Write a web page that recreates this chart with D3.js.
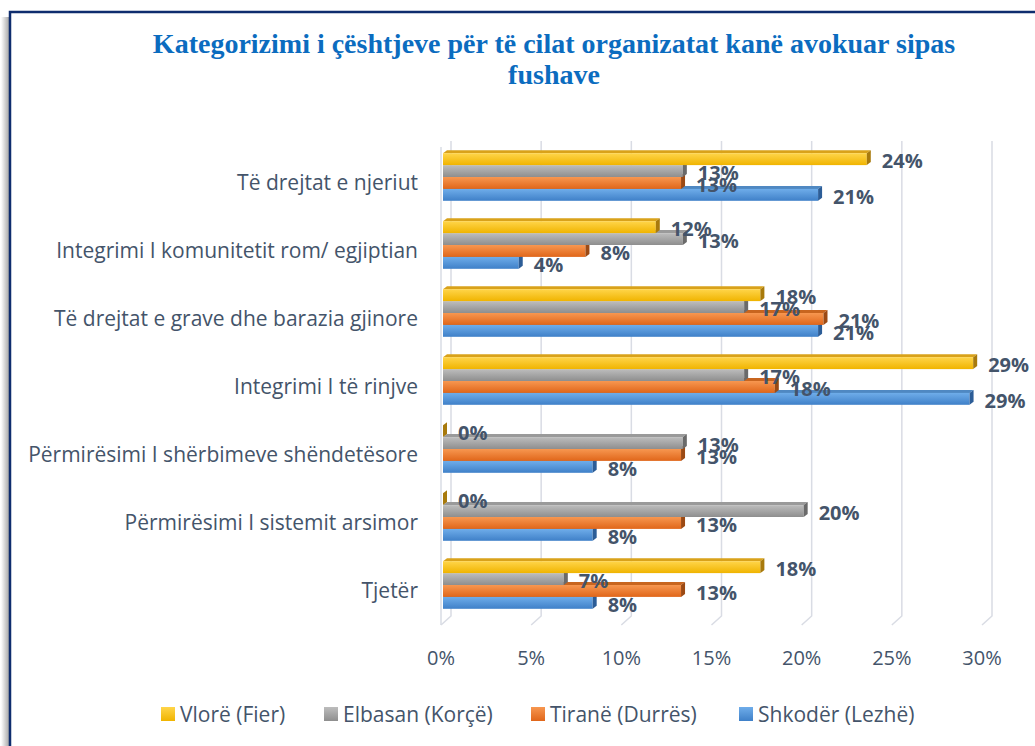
<!DOCTYPE html>
<html lang="sq">
<head>
<meta charset="UTF-8">
<title>Kategorizimi i çështjeve</title>
<style>
  body { margin: 0; background: #fff; }
  svg { display: block; }
  .cat, .tick, .legend text { font-family: "Open Sans", "Noto Sans", sans-serif; fill: #44546a; }
  .val { font-family: "Open Sans", "Noto Sans", sans-serif; font-weight: bold; fill: #44546a; }
  .title { font-family: "Liberation Serif", "Times New Roman", serif; font-weight: bold; fill: #0b6cbf; }
</style>
</head>
<body>
<svg width="1035" height="746"></svg>
<script src="https://d3js.org/d3.v7.min.js"></script>
<script>
// categories, top to bottom
const categories = [
  'Të drejtat e njeriut',
  'Integrimi I komunitetit rom/ egjiptian',
  'Të drejtat e grave dhe barazia gjinore',
  'Integrimi I të rinjve',
  'Përmirësimi I shërbimeve shëndetësore',
  'Përmirësimi I sistemit arsimor',
  'Tjetër'
];
const seriesNames = ['Vlorë (Fier)', 'Elbasan (Korçë)', 'Tiranë (Durrës)', 'Shkodër (Lezhë)'];
// percent values per series, in category order
const vlore   = [23.5, 11.8, 17.6, 29.4, 0, 0, 17.6];
const elbasan = [13.3, 13.3, 16.7, 16.7, 13.3, 20.0, 6.7];
const tirane  = [13.2, 7.9, 21.1, 18.4, 13.2, 13.2, 13.2];
const shkoder = [20.8, 4.2, 20.8, 29.2, 8.3, 8.3, 8.3];
const xTicks = [0, 5, 10, 15, 20, 25, 30];

const seriesValues = [vlore, elbasan, tirane, shkoder];
// front gradient top/bottom, top face, side face
const colors = [
  { hi: '#ffd54a', lo: '#f0b400', top: '#d9a21a', side: '#a87a0c' },
  { hi: '#bdbdbd', lo: '#8e8e8e', top: '#9a9a9a', side: '#6a6a6a' },
  { hi: '#f79750', lo: '#e0661a', top: '#c8651f', side: '#9c4a14' },
  { hi: '#6fadea', lo: '#3f80c8', top: '#4f88c2', side: '#2c5d97' }
];

const svg = d3.select('svg');
const defs = svg.append('defs');

// frame shadow + border
const sh = defs.append('linearGradient').attr('id', 'shadow').attr('x1', 0).attr('x2', 1);
sh.append('stop').attr('offset', 0).attr('stop-color', '#fff');
sh.append('stop').attr('offset', 1).attr('stop-color', '#a8a8a8');
svg.append('rect').attr('x', 1).attr('y', 17).attr('width', 8).attr('height', 729).attr('fill', 'url(#shadow)');
svg.append('path').attr('d', 'M10,746V12H1035').attr('fill', 'none')
  .attr('stroke', '#0f2d6e').attr('stroke-width', 2.5);

// title
const title = svg.append('text').attr('class', 'title').attr('text-anchor', 'middle').style('font-size', '28px');
title.append('tspan').attr('x', 554).attr('y', 53).text('Kategorizimi i çështjeve për të cilat organizatat kanë avokuar sipas');
title.append('tspan').attr('x', 554).attr('y', 84).text('fushave');

colors.forEach((c, i) => {
  const g = defs.append('linearGradient').attr('id', 'g' + i).attr('x1', 0).attr('x2', 0).attr('y1', 0).attr('y2', 1);
  g.append('stop').attr('offset', 0).attr('stop-color', c.hi);
  g.append('stop').attr('offset', 1).attr('stop-color', c.lo);
});

const x = d3.scaleLinear().domain([0, 30]).range([443, 984]);
const y = d3.scaleBand().domain(categories).range([143, 619]).paddingInner(0.3).paddingOuter(0.15);
const ys = d3.scaleBand().domain(d3.range(seriesNames.length)).range([0, y.bandwidth()]);
const dx = 4, dy = 3;
const gridTop = 141, gridBack = 616, gridFront = 625;

// gridlines (3D: back wall line + slanted floor edge)
const grid = svg.append('g').attr('fill', 'none').attr('stroke', '#d9dce4').attr('stroke-width', 1.5);
grid.append('line').attr('x1', x(0) - 2).attr('x2', x(0) - 2).attr('y1', gridTop + 6).attr('y2', gridFront);
grid.selectAll('path').data(xTicks).join('path')
  .attr('d', d => `M${x(d) + 8},${gridTop}V${gridBack}L${x(d) - 2},${gridFront}`);

// tick labels
svg.append('g').selectAll('text').data(xTicks).join('text')
  .attr('class', 'tick').attr('x', d => x(d) - 2).attr('y', 657)
  .attr('text-anchor', 'middle').attr('dominant-baseline', 'central')
  .style('font-size', '20px').text(d => d + '%');

// category labels
svg.append('g').selectAll('text').data(categories).join('text')
  .attr('class', 'cat').attr('x', 418).attr('y', d => y(d) + y.bandwidth() / 2 + 5)
  .attr('text-anchor', 'end').attr('dominant-baseline', 'central')
  .style('font-size', '21px').text(d => d);

// bars: draw bottom series first so upper bars cover the top faces below
const bars = [];
categories.forEach((cat, ci) => {
  seriesValues.forEach((vals, si) => {
    bars.push({ cat, si, v: vals[ci] });
  });
});
const barG = svg.append('g');
const order = d3.range(seriesNames.length).reverse();
order.forEach(si => {
  const data = bars.filter(b => b.si === si);
  const g = barG.append('g');
  data.forEach(b => {
    const x0 = x(0), x1 = x(b.v);
    const y0 = y(b.cat) + ys(si), h = ys.bandwidth();
    const c = colors[si];
    g.append('path').attr('fill', c.top)
      .attr('d', `M${x0},${y0}L${x0 + dx},${y0 - dy}L${x1 + dx},${y0 - dy}L${x1},${y0}Z`);
    g.append('rect').attr('x', x0).attr('y', y0).attr('width', x1 - x0).attr('height', h)
      .attr('fill', `url(#g${si})`);
    g.append('path').attr('fill', c.side)
      .attr('d', `M${x1},${y0}L${x1 + dx},${y0 - dy}L${x1 + dx},${y0 + h - dy}L${x1},${y0 + h}Z`);
  });
});

// value labels
svg.append('g').selectAll('text').data(bars).join('text')
  .attr('class', 'val')
  .attr('x', d => x(d.v) + 15)
  .attr('y', d => y(d.cat) + ys(d.si) + ys.bandwidth() / 2 + 1.5)
  .attr('dominant-baseline', 'central')
  .style('font-size', '20px')
  .text(d => Math.round(d.v) + '%');

// legend
const legendX = [161, 324, 531, 739];
const leg = svg.append('g').attr('class', 'legend');
seriesNames.forEach((name, i) => {
  leg.append('rect').attr('x', legendX[i]).attr('y', 707).attr('width', 14).attr('height', 14)
    .attr('fill', `url(#g${i})`);
  leg.append('text').attr('x', legendX[i] + 19).attr('y', 714).attr('dominant-baseline', 'central')
    .style('font-size', '21px').text(name);
});
</script>
</body>
</html>
